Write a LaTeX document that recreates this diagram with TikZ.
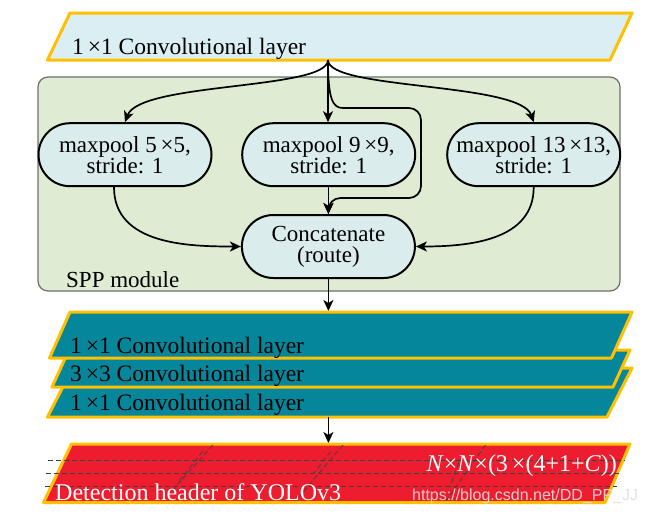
\documentclass[tikz,border=0pt]{standalone}
\usepackage{fontspec}
\setmainfont{Liberation Serif}
\newfontfamily\wmfont{Liberation Sans}
\usetikzlibrary{arrows.meta,shapes.misc,calc}
\definecolor{topblue}{RGB}{218,238,244}
\definecolor{lborder}{RGB}{255,192,0}
\definecolor{sppfill}{RGB}{223,236,211}
\definecolor{sppline}{RGB}{110,110,110}
\definecolor{nodefill}{RGB}{218,236,235}
\definecolor{layerteal}{RGB}{5,134,154}
\definecolor{headred}{RGB}{237,28,46}
\tikzset{
  layer/.style={draw=lborder, line width=3pt, line join=round},
  lbl/.style={inner sep=0pt, anchor=base west, font=\fontsize{23.5}{26}\selectfont},
  pool/.style={rounded rectangle, draw=black, line width=2pt, fill=nodefill,
    minimum width=173pt, minimum height=63pt, inner sep=0pt, align=center,
    font=\fontsize{23}{21}\selectfont},
  conn/.style={line width=1.7pt, -{Stealth[length=11pt,width=10pt,inset=3pt]}},
  hdash/.style={draw=black!75, line width=0.7pt, dash pattern=on 5pt off 3pt},
}
\begin{document}
\begin{tikzpicture}[x=1pt,y=-1pt]
\useasboundingbox (0,0) rectangle (647,514);

% top convolutional layer
\draw[layer, fill=topblue] (70,13) -- (632,13) -- (610,60) -- (47.5,60) -- cycle;
\node[lbl] (top) at (72,54) {1\,×1 Convolutional layer};
\coordinate (topout) at (328,60);

% SPP module box
\draw[draw=sppline, line width=1.2pt, fill=sppfill, rounded corners=10pt] (38,77) rectangle (620,291);
\node[inner sep=0pt, anchor=base west, font=\fontsize{23}{25}\selectfont] (spp) at (66,287) {SPP module};

% pooling and concatenation nodes
\node[pool] (mp5) at (125,154.7) {maxpool 5\,×5,\\stride: 1};
\node[pool] (mp9) at (328.7,154.7) {maxpool 9\,×9,\\stride: 1};
\node[pool] (mp13) at (533.7,154.7) {maxpool 13\,×13,\\stride: 1};
\node[pool] (cat) at (328.4,246.5) {Concatenate\\(route)};

% connectors inside SPP
\draw[conn] (topout) -- (topout |- mp9.north);
\draw[conn] (topout) .. controls (328,90) and (140,82) .. (mp5.north);
\draw[conn] (topout) .. controls (328,90) and (520,82) .. (mp13.north);
\draw[conn, rounded corners=12pt] (topout) .. controls (328,100) and (333,108) .. (355,108) -- (421,108) -- (421,198) -- (328.4,198) -- (cat.north);
\draw[conn] (mp9.south -| cat.north) -- (cat.north);
\draw[conn] ($(mp5.south)+(-11,0)$) .. controls ($(mp5.south)+(-11,58)$) and (190,246.5) .. (cat.west);
\draw[conn] (mp13.south) .. controls ($(mp13.south)+(0,53)$) and (470,246.5) .. (cat.east);

% stack of three convolutional layers
\coordinate (l1top) at (328.4,311);
\draw[conn] (cat.south) -- (l1top);
\draw[layer, fill=layerteal] (72.5,368) -- (632,368) -- (607,417) -- (47.5,417) -- cycle;
\draw[layer, fill=layerteal] (69,350) -- (630,350) -- (613,387) -- (52,387) -- cycle;
\draw[layer, fill=layerteal] (70,312) -- (632,312) -- (611.5,358) -- (49.5,358) -- cycle;
\node[lbl] (c1) at (70,353) {1\,×1 Convolutional layer};
\node[lbl] (c2) at (70,381.5) {3\,×3 Convolutional layer};
\node[lbl] (c3) at (70,410) {1\,×1 Convolutional layer};

% detection header
\coordinate (l3bot) at (328.4,417);
\coordinate (headtop) at (328.4,443);
\draw[conn] (l3bot) -- (headtop);
\draw[layer, fill=headred] (71.5,444) -- (630,444) -- (605,502.5) -- (43.5,502.5) -- cycle;
\draw[hdash] (48,460) -- (625,460);
\draw[hdash] (46,473.3) -- (621,473.3);
\draw[hdash] (45,486.7) -- (617,486.7);
\draw[hdash] (212.8,445) -- (163,501);
\draw[hdash] (202.5,451.7) -- (177.7,483);
\draw[hdash] (343,445) -- (295.5,501);
\draw[hdash] (330.6,451.7) -- (314,473);
\draw[hdash] (485.5,445) -- (446,501);
\draw[hdash] (458.7,463) -- (450,486.7);
\node[lbl, text=white, font=\fontsize{24}{26}\selectfont] (det) at (55,500) {Detection header of YOLOv3};
\node[inner sep=0pt, anchor=base east, text=white, font=\fontsize{24}{26}\selectfont] (dim) at (617,471.7) {\textit{N}×\textit{N}×(3\,×(4+1+\textit{C}))};
\node[inner sep=0pt, anchor=base west, text=white!88!black, opacity=0.9, font=\wmfont\fontsize{16}{18}\selectfont] (wm) at (412,500) {https://blog.csdn.net/DD\_PP\_JJ};
\end{tikzpicture}
\end{document}
